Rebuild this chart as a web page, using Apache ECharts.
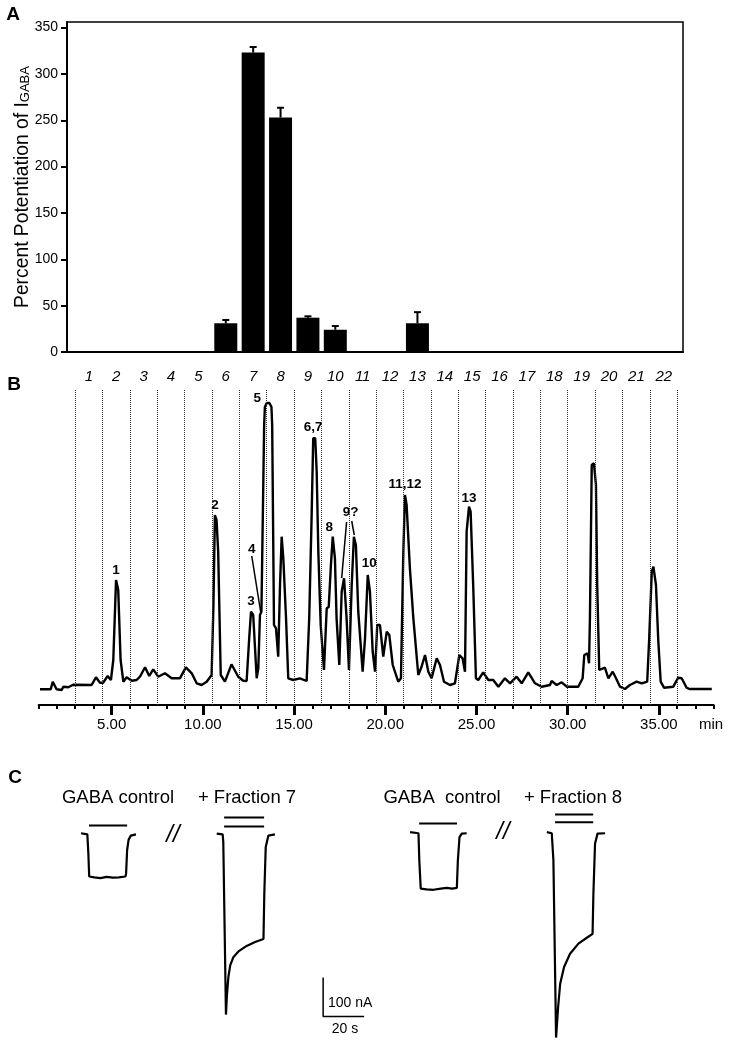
<!DOCTYPE html>
<html>
<head>
<meta charset="utf-8">
<script src="https://cdn.jsdelivr.net/npm/echarts@6/dist/echarts.min.js"></script>
<style>
html, body { margin: 0; padding: 0; background: #fff; }
#main { width: 732px; height: 1048px; }
</style>
</head>
<body>
<div id="main"></div>
<script>
var myChart = echarts.init(document.getElementById('main'));
var FONT = '"Liberation Sans", Arial, Helvetica, sans-serif';

// panel A : potentiation per fraction
var fractions = [1, 2, 3, 4, 5, 6, 7, 8, 9, 10, 11, 12, 13, 14, 15, 16, 17, 18, 19, 20, 21, 22];
var potentiation = [0, 0, 0, 0, 0, 31, 323, 253, 37, 24, 0, 0, 31, 0, 0, 0, 0, 0, 0, 0, 0, 0];
var potentiationErr = [0, 0, 0, 0, 0, 3.5, 6, 10.5, 1.5, 4, 0, 0, 12, 0, 0, 0, 0, 0, 0, 0, 0, 0];
var potentiationTicks = [0, 50, 100, 150, 200, 250, 300, 350];

// panel B : chromatogram (min, signal)
var chromTime = [1.07, 1.66, 1.77, 1.98, 2.26, 2.35, 2.62, 2.89, 3.90, 4.14, 4.36, 4.54, 4.78, 4.96, 5.09, 5.24, 5.36, 5.49, 5.64, 5.82,
  6.10, 6.37, 6.55, 6.83, 7.06, 7.28, 7.55, 7.92, 8.29, 8.74, 9.07, 9.39, 9.66, 9.93, 10.21, 10.48, 10.58, 10.66, 10.75, 10.84,
  10.98, 11.21, 11.57, 11.94, 12.21, 12.40, 12.54, 12.64, 12.76, 12.86, 12.95, 13.04, 13.13, 13.21, 13.36, 13.40, 13.50, 13.65, 13.76, 13.80,
  13.90, 14.01, 14.13, 14.23, 14.32, 14.41, 14.56, 14.68, 14.96, 15.32, 15.69, 15.83, 15.96, 16.05, 16.16, 16.24, 16.33, 16.46, 16.64, 16.79,
  16.90, 17.02, 17.12, 17.24, 17.33, 17.48, 17.61, 17.74, 17.88, 18.01, 18.16, 18.28, 18.39, 18.52, 18.76, 18.89, 19.04, 19.16, 19.31, 19.44,
  19.56, 19.62, 19.71, 19.89, 20.08, 20.22, 20.41, 20.71, 20.86, 20.99, 21.08, 21.17, 21.35, 21.54, 21.81, 21.99, 22.18, 22.36, 22.54, 22.82,
  23.00, 23.22, 23.55, 23.82, 24.06, 24.24, 24.37, 24.46, 24.59, 24.68, 24.82, 24.97, 25.10, 25.37, 25.65, 25.92, 26.20, 26.56, 26.84, 27.20,
  27.48, 27.84, 28.21, 28.57, 29.03, 29.12, 29.40, 29.67, 29.95, 30.58, 30.82, 30.91, 31.09, 31.17, 31.22, 31.32, 31.44, 31.55, 31.62, 31.73,
  32.04, 32.23, 32.47, 32.65, 32.87, 33.14, 33.41, 33.78, 34.06, 34.36, 34.47, 34.61, 34.70, 34.84, 34.97, 35.10, 35.28, 35.79, 36.06, 36.25,
  36.52, 36.67, 37.90];
var chromSignal = [15.7, 15.7, 23.3, 15.7, 15, 18.3, 17.7, 20.3, 20, 27.7, 22.3, 22.3, 29, 25, 45, 125, 115, 45, 23.3, 27.7,
  24.3, 25, 28.3, 37.7, 29, 35.7, 28.3, 31.7, 26.7, 26.7, 37.7, 31.7, 21.7, 20, 23.3, 30, 100, 190, 185, 153.3,
  30, 23.3, 40.7, 28.3, 24.3, 24, 66.7, 93.3, 90, 56.7, 26.7, 36.7, 90, 93.3, 280, 298, 302, 302, 298, 280,
  80, 76.7, 48.3, 120, 168.3, 146.7, 86.7, 26.7, 25, 26.7, 24, 86.7, 186.7, 266.7, 266.7, 233.3, 153.3, 80, 35, 96.7,
  98, 140, 168.3, 146.7, 86.7, 40, 113.3, 126.7, 86.7, 35, 120, 168.3, 160, 93.3, 33.3, 66.7, 130, 113.3, 53.3, 33.3,
  80, 81.7, 80, 48.3, 73.3, 70, 40, 23.3, 26.7, 153.3, 210, 200, 136.7, 86.7, 30, 38.3, 50, 33.3, 26.7, 46.7,
  40, 23.3, 20, 21.7, 50, 46.7, 33.3, 173.3, 198.3, 193.3, 120, 26.7, 25, 32.7, 25, 25, 18.3, 26.7, 21.7, 28.3,
  21.7, 32.7, 21.7, 18.3, 20, 24, 20, 22.7, 18.3, 18.3, 26.7, 50, 51.7, 41.7, 86.7, 240, 241.7, 220, 120, 35,
  37.3, 26.7, 33.3, 26.7, 18.3, 16, 20, 23.3, 21.7, 23.3, 66.7, 133.3, 138.3, 120, 63.3, 23.3, 17.3, 18.3, 27.3, 26.7,
  17.3, 16, 16];
var fractionCuts = [3, 4.5, 6, 7.5, 9, 10.5, 12, 13.5, 15, 16.5, 18, 19.5, 21, 22.5, 24, 25.5, 27, 28.5, 30, 31.5, 33, 34.5, 36];
var timeLabels = [5, 10, 15, 20, 25, 30, 35];
var peakNames = ['1', '2', '3', '4', '5', '6,7', '8', '9?', '10', '11,12', '13'];
var peakLabelTime = [5.24, 10.66, 12.64, 12.68, 12.98, 16.05, 16.93, 18.10, 19.12, 21.08, 24.59];
var peakLabelHeight = [135, 200, 104, 156, 307, 278, 178, 193, 142, 221, 207];
var leaderLines = [
  [[12.68, 149], [13.17, 93]],
  [[17.88, 183], [17.61, 127]],
  [[18.16, 184], [18.30, 170]]
];

// panel C : currents (s, nA)
var control7 = [[39.5, 3], [40.0, 0], [42.6, 0], [43.1, -50], [43.5, -108], [46, -110], [49, -112], [52, -109], [55, -111], [58, -110],
  [61.2, -108], [61.5, -100], [62.0, -40], [62.7, -14], [63.8, -3], [66.3, 0]];
var fraction7 = [[105.7, 2], [106.2, 0], [108.6, 0], [108.9, -20], [110.2, -462], [110.7, -410], [111.4, -365], [112.3, -335], [113.8, -315],
  [116.3, -300], [120.3, -286], [124.4, -276], [128.5, -268], [128.9, -152], [129.6, -32], [130.9, -3], [134.1, 0]];
var control8 = [[200.0, 6], [200.5, 3], [204.1, 3], [204.5, -67], [205.2, -139], [208, -141], [211.4, -142], [215, -139], [217.9, -137],
  [220.5, -139], [222.8, -137], [223.3, -67], [224.1, -7], [225.2, 2], [227.6, 3]];
var fraction8 = [[266.7, 6], [267.2, 3], [269.1, 3], [269.9, -67], [271.2, -521], [272.2, -443], [273.2, -383], [275.1, -340], [278.0, -306],
  [282.1, -280], [286.2, -265], [289.0, -255], [289.4, -152], [290.2, -24], [291.4, 2], [295.1, 3]];
var applicationBars = [
  [[43.4, 23], [62.0, 23]],
  [[109.3, 43.6], [128.8, 43.6]], [[109.3, 20.5], [128.8, 20.5]],
  [[204.4, 28], [222.9, 28]],
  [[270.7, 51], [289.3, 51]], [[270.7, 31], [289.3, 31]]
];
var scaleBar = [[157.6, -367], [157.6, -467], [177.6, -467]];

var chromData = chromTime.map(function (t, i) { return [t, chromSignal[i]]; });

function plainLine(data, xi, yi, width) {
  return {
    type: 'line', xAxisIndex: xi, yAxisIndex: yi, data: data,
    showSymbol: false, symbol: 'none', silent: true,
    lineStyle: { color: '#000', width: width }
  };
}

var series = [
  {
    type: 'bar', xAxisIndex: 0, yAxisIndex: 0, barWidth: 23,
    itemStyle: { color: '#000' },
    data: fractions.map(function (f, i) { return [f, potentiation[i]]; })
  },
  {
    type: 'custom', xAxisIndex: 0, yAxisIndex: 0,
    encode: { x: 0, y: 1 },
    data: fractions.map(function (f, i) { return [f, potentiation[i], potentiationErr[i]]; })
      .filter(function (d) { return d[2] > 0; }),
    renderItem: function (params, api) {
      var b = api.coord([api.value(0), api.value(1)]);
      var t = api.coord([api.value(0), api.value(1) + api.value(2)]);
      var st = { stroke: '#000', lineWidth: 2 };
      return {
        type: 'group', children: [
          { type: 'line', shape: { x1: b[0], y1: b[1], x2: t[0], y2: t[1] }, style: st },
          { type: 'line', shape: { x1: t[0] - 3.5, y1: t[1], x2: t[0] + 3.5, y2: t[1] }, style: st }
        ]
      };
    }
  },
  {
    type: 'line', xAxisIndex: 1, yAxisIndex: 1, data: chromData,
    showSymbol: false, symbol: 'none', z: 3,
    lineStyle: { color: '#000', width: 2.4 },
    markLine: {
      silent: true, symbol: ['none', 'none'],
      label: { show: false },
      lineStyle: { color: '#333', width: 1, type: [1, 1] },
      data: fractionCuts.map(function (c) { return { xAxis: c }; })
    }
  },
  {
    type: 'custom', xAxisIndex: 1, yAxisIndex: 1, z: 4,
    encode: { x: 0, y: 1 },
    data: peakNames.map(function (n, i) { return [peakLabelTime[i], peakLabelHeight[i], n]; }),
    renderItem: function (params, api) {
      var p = api.coord([api.value(0), api.value(1)]);
      return {
        type: 'text', x: p[0], y: p[1],
        style: {
          text: peakNames[params.dataIndex], fill: '#000', fontFamily: FONT,
          fontWeight: 'bold', fontSize: 13.5, textAlign: 'center', textVerticalAlign: 'middle'
        }
      };
    }
  }
];
leaderLines.forEach(function (l) { series.push(plainLine(l, 1, 1, 1.5)); });
[control7, fraction7, control8, fraction8].forEach(function (tr) { series.push(plainLine(tr, 3, 2, 2.2)); });
applicationBars.forEach(function (b) { series.push(plainLine(b, 3, 2, 2)); });
series.push(plainLine(scaleBar, 3, 2, 1.5));

function txt(s, x, y, size, opts) {
  opts = opts || {};
  return {
    type: 'text', x: x, y: y, silent: true,
    style: {
      text: s, fill: '#000', fontFamily: FONT, fontSize: size,
      fontWeight: opts.bold ? 'bold' : 'normal', fontStyle: opts.italic ? 'italic' : 'normal',
      textAlign: opts.align || 'center', textVerticalAlign: 'middle'
    }
  };
}

option = {
  animation: false,
  backgroundColor: '#fff',
  grid: [
    { left: 67, top: 22, width: 616, height: 330, show: true, borderColor: '#000', borderWidth: 1.5, outerBoundsMode: 'none' },
    { left: 38.7, top: 390, width: 674.9, height: 315, outerBoundsMode: 'none' },
    { left: 0, top: 785, width: 732, height: 260, outerBoundsMode: 'none' }
  ],
  xAxis: [
    {
      gridIndex: 0, type: 'value', min: 0.2, max: 22.7,
      axisLine: { lineStyle: { color: '#000', width: 2 } },
      axisTick: { show: false }, splitLine: { show: false },
      axisLabel: {
        customValues: fractions, margin: 17, color: '#000',
        fontFamily: FONT, fontSize: 15, fontStyle: 'italic'
      }
    },
    {
      gridIndex: 1, type: 'value', min: 1, max: 38, interval: 1, position: 'bottom',
      axisLine: { onZero: false, lineStyle: { color: '#000', width: 2 } },
      axisTick: { length: 4, lineStyle: { color: '#000', width: 2 } },
      axisLabel: { show: false }, splitLine: { show: false }
    },
    {
      gridIndex: 1, type: 'value', min: 1, max: 38, position: 'bottom',
      axisLine: { show: false, onZero: false },
      axisTick: { customValues: timeLabels, length: 10, lineStyle: { color: '#000', width: 3 } },
      axisLabel: {
        customValues: timeLabels, margin: 12, color: '#000', fontFamily: FONT, fontSize: 15,
        formatter: function (v) { return v.toFixed(2); }
      },
      splitLine: { show: false }
    },
    { gridIndex: 2, type: 'value', min: 0, max: 357, show: false }
  ],
  yAxis: [
    {
      gridIndex: 0, type: 'value', min: 0, max: 356,
      axisLine: { show: true, lineStyle: { color: '#000', width: 2 } },
      axisTick: { customValues: potentiationTicks, length: 6, lineStyle: { color: '#000', width: 2 } },
      axisLabel: { customValues: potentiationTicks, margin: 9, color: '#000', fontFamily: FONT, fontSize: 14 },
      splitLine: { show: false },
      name: '{a|Percent Potentiation of I}{s|GABA}',
      nameLocation: 'middle', nameGap: 30, nameMoveOverlap: false,
      nameTextStyle: {
        rich: {
          a: { fontFamily: FONT, fontSize: 19.3, color: '#000', padding: [0, 0, 5, 0] },
          s: { fontFamily: FONT, fontSize: 13, color: '#000' }
        }
      }
    },
    { gridIndex: 1, type: 'value', min: 0, max: 315, show: false },
    { gridIndex: 2, type: 'value', min: -540, max: 126.7, show: false }
  ],
  graphic: [
    txt('A', 13, 15, 19, { bold: true }),
    txt('B', 14, 385, 19, { bold: true }),
    txt('C', 15, 778, 19, { bold: true }),
    txt('min', 711, 725, 15),
    txt('GABA control', 118, 798, 18.5),
    txt('+ Fraction 7', 247, 798, 18.5),
    txt('GABA  control', 442, 798, 18.5),
    txt('+ Fraction 8', 573, 798, 18.5),
    txt('//', 173, 835, 24, { italic: true }),
    txt('//', 503, 832, 24, { italic: true }),
    txt('100 nA', 328, 1003, 14, { align: 'left' }),
    txt('20 s', 345, 1029, 14)
  ],
  series: series
};

myChart.setOption(option);
</script>
</body>
</html>
